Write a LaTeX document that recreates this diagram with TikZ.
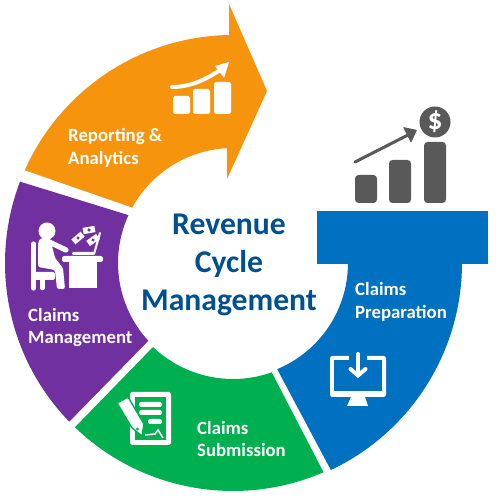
\documentclass[tikz,border=0pt]{standalone}
\usepackage{fontspec}
\setmainfont{Carlito}
\definecolor{ringorange}{HTML}{F7940E}
\definecolor{ringpurple}{HTML}{7030A0}
\definecolor{ringgreen}{HTML}{00B050}
\definecolor{ringblue}{HTML}{0070C0}
\definecolor{titleblue}{HTML}{00508F}
\definecolor{icongray}{HTML}{595959}
\tikzset{
  seglabel/.style={text=white, font=\bfseries\fontsize{16}{19.5}\selectfont, align=left, anchor=west, inner sep=0pt},
  ringtitle/.style={text=titleblue, font=\bfseries\fontsize{27}{32.7}\selectfont, align=center, inner sep=0pt},
  pxgrid/.style={shift={(0,504)}, y=-0.03cm}
}
\begin{document}
\begin{tikzpicture}[x=0.03cm, y=0.03cm, >=stealth]
\useasboundingbox (0,0) rectangle (495,504);
% ring segments around the centre
\begin{scope}[shift={(233,241)}]
\fill[ringblue] (-0.25:229) arc (-0.25:-64.7:229) -- (-67.4:115) arc (-67.4:-0.5:115) -- cycle;
\fill[ringgreen] (-66.6:228) arc (-66.6:-133.9:228) -- (-133.6:116) arc (-133.6:-70.5:116) -- cycle;
\fill[ringpurple] (224.1:228) arc (224.1:159.1:228) -- (155.4:115) arc (155.4:222.6:115) -- cycle;
\fill[ringorange] (156:228) arc (156:91:228) -- (-4,259) -- (34,172) -- (-6,84) -- (93:115) arc (93:151.2:115) -- cycle;
\end{scope}
% blue head of the last segment
\fill[ringblue] (317,293) rectangle (488,240);
% texts
\node[ringtitle] (title) at (229,239) {Revenue\\Cycle\\Management};
\node[seglabel] (report) at (68,356.5) {Reporting \&\\Analytics};
\node[seglabel] (manage) at (28,176.5) {Claims\\Management};
\node[seglabel] (submit) at (197,65) {Claims\\Submission};
\node[seglabel] (prepare) at (355,202) {Claims\\Preparation};
\begin{scope}[pxgrid]
% gray chart
\foreach \xa/\ha in {355/28, 389/43, 424/61} {
  \fill[icongray, rounded corners=3pt] (\xa,203) rectangle ++(22,-\ha);
}
\draw[icongray, line width=2.6pt, line cap=round] (355,162) -- (408,135);
\fill[icongray, rounded corners=0.5pt] (417,130) -- (403,127) -- (411,143) -- cycle;
\node[circle, fill=icongray, minimum size=31*0.03cm, inner sep=0pt, text=white, font=\bfseries\fontsize{25}{25}\selectfont] (coin) at (435,122) {\$};
% orange chart
\foreach \xa/\ha in {173/18, 193/25, 214/32} {
  \fill[white, rounded corners=2pt] (\xa,114) rectangle ++(17,-\ha);
}
\draw[white, line width=3.4pt, line cap=round] (172,87) .. controls (190,87) and (205,80) .. (220,70);
\fill[white] (229,62) -- (215,66) -- (224,78) -- cycle;
% person at a desk
\fill[white] (47,231) circle[radius=8.5];
\draw[white, line width=4.5pt, line cap=round] (33.5,244) -- (33.5,288);
\draw[white, line width=4pt, line cap=round] (42.5,278) -- (42.5,288);
\fill[white, rounded corners=2pt] (32,272) rectangle (55,280);
\fill[white, rounded corners=2pt] (38,242) -- (41,238) -- (50,238) -- (55,258) -- (63,268) -- (65,289) -- (57,289) -- (55,270) -- (38,267) -- cycle;
\draw[white, line width=4.5pt, line cap=round] (47,241) -- (66,250);
\fill[white, rounded corners=2pt] (62,256) rectangle (103,262);
\fill[white] (69,261) rectangle (97,288);
\fill[white, rounded corners=1pt] (72,252) rectangle (94,255);
\draw[white, line width=1.8pt, line cap=round] (100,233) -- (94,254);
\foreach \xa/\ya/\ang in {89/230/10, 78/238/40, 93/240/35} {
  \begin{scope}[shift={(\xa,\ya)}, rotate=\ang]
  \fill[white] (-6,-3.2) rectangle (6,3.2);
  \fill[ringpurple] (0,0) circle[radius=1.8];
  \end{scope}
}
% paper and pencil
\fill[white, rounded corners=1.5pt] (130,392) rectangle (171,445);
\fill[ringgreen] (135,397) rectangle (166,440);
\fill[white, rounded corners=2pt] (139,402) rectangle (162,407);
\fill[white, rounded corners=2pt] (139,410) rectangle (162,415);
\fill[white, rounded corners=2pt] (148,419) rectangle (162,424);
\draw[white, line width=1.3pt] (145,435) -- (155,434) -- (158,430) -- (163,438);
\filldraw[fill=white, draw=ringgreen, line width=1.2pt, rounded corners=1pt] (117,403) -- (128,397) -- (144,424) -- (142,436) -- (132,428) -- cycle;
\fill[ringgreen] (137.5,429) circle[radius=1.6];
% monitor
\fill[white, rounded corners=2pt] (330,356) rectangle (386,397);
\fill[ringblue] (334,360) rectangle (382,391);
\fill[ringblue] (349,354) rectangle (367,361);
\fill[white] (351,397) -- (365,397) -- (368,406) -- (347,406) -- cycle;
\draw[white, line width=3.4pt, line cap=round] (358,354) -- (358,374);
\draw[white, line width=3.4pt, line cap=round] (350.5,369) -- (358,375.5) -- (365.5,369);
\end{scope}
\end{tikzpicture}
\end{document}
